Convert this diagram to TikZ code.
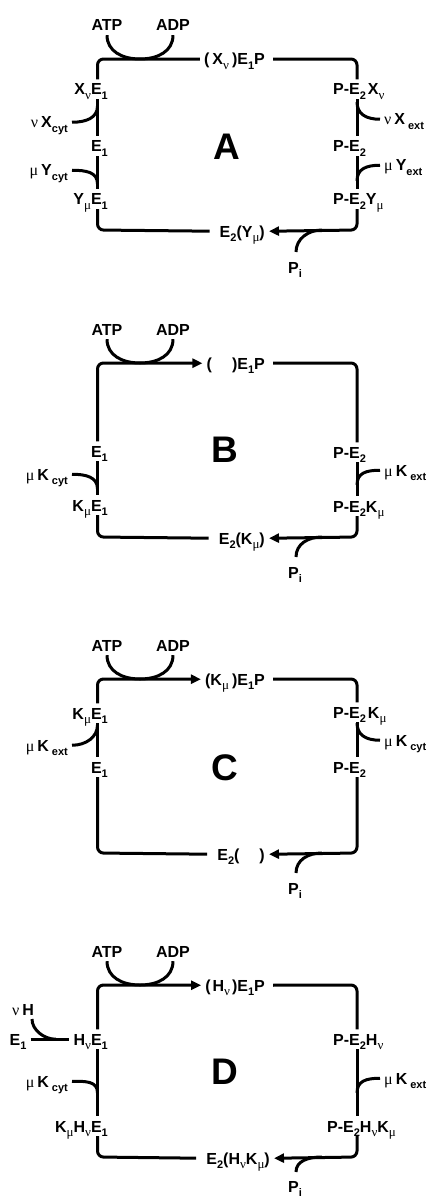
\documentclass[tikz,border=0pt]{standalone}
\usepackage{fontspec}
\setmainfont{Liberation Sans}
\newfontfamily\grfont{Liberation Serif}
\usetikzlibrary{arrows.meta}
\newcommand{\gk}[1]{{\grfont\mdseries #1}}
\newcommand{\sbs}[1]{\raisebox{-0.26em}{\fontsize{11}{12}\selectfont #1}}
\newcommand{\gs}[1]{\raisebox{-0.26em}{\fontsize{13}{14}\selectfont\grfont\mdseries #1}}
\newcommand{\lf}{\fontsize{16}{18}\selectfont\bfseries}
\begin{document}
\begin{tikzpicture}[x=1pt,y=-1pt,
  lab/.style={font=\lf, inner xsep=4pt, inner ysep=4pt, text height=11.5pt, text depth=0pt},
  ln/.style={line width=3pt},
  arr/.style={line width=3pt, -{Triangle[length=10pt,width=9pt]}},
  big/.style={font=\fontsize{37}{40}\selectfont\bfseries, inner sep=0pt},
  rc/.style={rounded corners=6pt}]
\useasboundingbox (0,0) rectangle (433,1198);

% ================= Panel A =================
\coordinate (tlA) at (97.5,59); \coordinate (trA) at (357,59);
\coordinate (blA) at (97.5,230); \coordinate (brA) at (357,230);
\node[lab, anchor=base] (atpA) at (107,31) {ATP};
\node[lab, anchor=base] (adpA) at (173,31) {ADP};
\coordinate (uA) at (140,59);
\draw[ln] (atpA.south) .. controls +(0,16) and +(-18,0) .. (uA) .. controls +(18,0) and +(0,16) .. (adpA.south);
\node[lab, anchor=base east] (topA) at (269,65) {(\hspace{3pt}X\gs{ν}\hspace{3pt})E\sbs{1}P};
\node[lab, anchor=base east] (l1A) at (112,95) {X\gs{ν}E\sbs{1}};
\node[lab, anchor=base east] (l2A) at (112,152) {E\sbs{1}};
\node[lab, anchor=base east] (l3A) at (112,205) {Y\gs{μ}E\sbs{1}};
\node[lab, anchor=base west] (r1A) at (329,95) {P-E\sbs{2}\hspace{2pt}X\gs{ν}};
\node[lab, anchor=base west] (r2A) at (329,152) {P-E\sbs{2}};
\node[lab, anchor=base west] (r3A) at (329,205) {P-E\sbs{2}Y\gs{μ}};
\node[lab, anchor=base east] (s1A) at (72,128) {\gk{ν}\hspace{3pt}X\sbs{cyt}};
\node[lab, anchor=base east] (s2A) at (72,176) {\gk{μ}\hspace{3pt}Y\sbs{cyt}};
\node[lab, anchor=base west] (s3A) at (380,125) {\gk{ν}\hspace{3pt}X\hspace{3pt}\sbs{ext}};
\node[lab, anchor=base west] (s4A) at (380,171) {\gk{μ}\hspace{3pt}Y\sbs{ext}};
\node[lab, anchor=base east] (botA) at (269,237) {E\sbs{2}(Y\gs{μ})};
\node[lab, anchor=base] (piA) at (295,273) {P\sbs{i}};
\node[big] (nA) at (227,147) {A};
\draw[ln, rc] (l1A.north -| tlA) -- (tlA) -- (topA.west);
\draw[ln, rc, shorten <=4pt] (topA.east) -- (trA) -- (r1A.north -| trA);
\draw[ln] (l1A.south -| tlA) -- (l2A.north -| tlA);
\draw[ln] (l2A.south -| tlA) -- (l3A.north -| tlA);
\draw[ln, rc, shorten >=6pt] (l3A.south -| blA) -- (blA) -- (botA.west);
\draw[ln] (r1A.south -| trA) -- (r2A.north -| trA);
\draw[ln] (r2A.south -| trA) -- (r3A.north -| trA);
\draw[arr, rc] (r3A.south -| brA) -- (brA) -- (botA.east);
\coordinate (c1A) at (97.5,106);
\draw[ln] (s1A.east) .. controls +(14,0) and +(0,12) .. (c1A);
\coordinate (c2A) at (97.5,184);
\draw[ln] (s2A.east) .. controls +(14,0) and +(0,-12) .. (c2A);
\coordinate (c3A) at (357,102);
\draw[ln] (c3A) .. controls +(0,12) and +(-14,0) .. (s3A.west);
\coordinate (c4A) at (357,181);
\draw[ln] (s4A.west) .. controls +(-14,0) and +(0,-12) .. (c4A);
\coordinate (pA) at (296,252); \coordinate (qA) at (322,230);
\draw[ln] (pA) .. controls +(0,-13) and +(-14,0) .. (qA);

% ================= Panel B =================
\coordinate (tlB) at (97.5,363); \coordinate (trB) at (357,363);
\coordinate (blB) at (97.5,537); \coordinate (brB) at (357,537);
\node[lab, anchor=base] (atpB) at (107,335) {ATP};
\node[lab, anchor=base] (adpB) at (173,335) {ADP};
\coordinate (uB) at (140,363);
\draw[ln] (atpB.south) .. controls +(0,16) and +(-18,0) .. (uB) .. controls +(18,0) and +(0,16) .. (adpB.south);
\node[lab, anchor=base east] (topB) at (269,369) {(\hspace{20pt})E\sbs{1}P};
\node[lab, anchor=base east] (l1B) at (112,457) {E\sbs{1}};
\node[lab, anchor=base east] (l2B) at (112,511) {K\gs{μ}E\sbs{1}};
\node[lab, anchor=base west] (r1B) at (329,458) {P-E\sbs{2}};
\node[lab, anchor=base west] (r2B) at (329,512) {P-E\sbs{2}K\gs{μ}};
\node[lab, anchor=base east] (s1B) at (72,480) {\gk{μ}\hspace{3pt}K\hspace{3pt}\sbs{cyt}};
\node[lab, anchor=base west] (s2B) at (380,476) {\gk{μ}\hspace{3pt}K\hspace{3pt}\sbs{ext}};
\node[lab, anchor=base east] (botB) at (269,544) {E\sbs{2}(K\gs{μ})};
\node[lab, anchor=base] (piB) at (295,578) {P\sbs{i}};
\node[big] (nB) at (225,450) {B};
\draw[arr, rc] (l1B.north -| tlB) -- (tlB) -- (topB.west);
\draw[ln, rc, shorten <=4pt] (topB.east) -- (trB) -- (r1B.north -| trB);
\draw[ln] (l1B.south -| tlB) -- (l2B.north -| tlB);
\draw[ln, rc, shorten >=6pt] (l2B.south -| blB) -- (blB) -- (botB.west);
\draw[ln] (r1B.south -| trB) -- (r2B.north -| trB);
\draw[arr, rc] (r2B.south -| brB) -- (brB) -- (botB.east);
\coordinate (c1B) at (97.5,489);
\draw[ln] (s1B.east) .. controls +(14,0) and +(0,-12) .. (c1B);
\coordinate (c2B) at (357,485);
\draw[ln] (s2B.west) .. controls +(-14,0) and +(0,-12) .. (c2B);
\coordinate (pB) at (296,557); \coordinate (qB) at (322,537);
\draw[ln] (pB) .. controls +(0,-13) and +(-14,0) .. (qB);

% ================= Panel C =================
\coordinate (tlC) at (97.5,679); \coordinate (trC) at (357,679);
\coordinate (blC) at (97.5,853); \coordinate (brC) at (357,853);
\node[lab, anchor=base] (atpC) at (107,651) {ATP};
\node[lab, anchor=base] (adpC) at (173,651) {ADP};
\coordinate (uC) at (140,679);
\draw[ln] (atpC.south) .. controls +(0,16) and +(-18,0) .. (uC) .. controls +(18,0) and +(0,16) .. (adpC.south);
\node[lab, anchor=base east] (topC) at (269,685) {(K\gs{μ}\hspace{3pt})E\sbs{1}P};
\node[lab, anchor=base east] (l1C) at (112,719) {K\gs{μ}E\sbs{1}};
\node[lab, anchor=base east] (l2C) at (112,773) {E\sbs{1}};
\node[lab, anchor=base west] (r1C) at (329,718) {P-E\sbs{2}\hspace{2pt}K\gs{μ}};
\node[lab, anchor=base west] (r2C) at (329,773) {P-E\sbs{2}};
\node[lab, anchor=base east] (s1C) at (72,751) {\gk{μ}\hspace{3pt}K\hspace{3pt}\sbs{ext}};
\node[lab, anchor=base west] (s2C) at (380,746) {\gk{μ}\hspace{3pt}K\hspace{3pt}\sbs{cyt}};
\node[lab, anchor=base east] (botC) at (269,860) {E\sbs{2}(\hspace{20pt})};
\node[lab, anchor=base] (piC) at (295,894) {P\sbs{i}};
\node[big] (nC) at (225,768) {C};
\draw[arr, rc] (l1C.north -| tlC) -- (tlC) -- (topC.west);
\draw[ln, rc, shorten <=4pt] (topC.east) -- (trC) -- (r1C.north -| trC);
\draw[ln] (l1C.south -| tlC) -- (l2C.north -| tlC);
\draw[ln, rc, shorten >=6pt] (l2C.south -| blC) -- (blC) -- (botC.west);
\draw[ln] (r1C.south -| trC) -- (r2C.north -| trC);
\draw[arr, rc] (r2C.south -| brC) -- (brC) -- (botC.east);
\coordinate (c1C) at (97.5,725);
\draw[ln] (s1C.east) .. controls +(14,0) and +(0,12) .. (c1C);
\coordinate (c2C) at (357,723);
\draw[ln] (c2C) .. controls +(0,12) and +(-14,0) .. (s2C.west);
\coordinate (pC) at (296,873); \coordinate (qC) at (322,853);
\draw[ln] (pC) .. controls +(0,-13) and +(-14,0) .. (qC);

% ================= Panel D =================
\coordinate (tlD) at (97.5,985); \coordinate (trD) at (357,985);
\coordinate (blD) at (97.5,1157); \coordinate (brD) at (357,1157);
\node[lab, anchor=base] (atpD) at (107,957) {ATP};
\node[lab, anchor=base] (adpD) at (173,957) {ADP};
\coordinate (uD) at (140,985);
\draw[ln] (atpD.south) .. controls +(0,16) and +(-18,0) .. (uD) .. controls +(18,0) and +(0,16) .. (adpD.south);
\node[lab, anchor=base east] (topD) at (269,991) {(\hspace{2pt}H\gs{ν}\hspace{2pt})E\sbs{1}P};
\node[lab, anchor=base east] (l1D) at (112,1045) {H\gs{ν}E\sbs{1}};
\node[lab, anchor=base] (e0D) at (18,1045) {E\sbs{1}};
\node[lab, anchor=base] (nuD) at (23,1015) {\gk{ν}\hspace{3pt}H};
\node[lab, anchor=base east] (l2D) at (112,1132) {K\gs{μ}H\gs{ν}E\sbs{1}};
\node[lab, anchor=base west] (r1D) at (329,1045) {P-E\sbs{2}H\gs{ν}};
\node[lab, anchor=base west] (r2D) at (323,1132) {P-E\sbs{2}H\gs{ν}K\gs{μ}};
\node[lab, anchor=base east] (s1D) at (72,1087) {\gk{μ}\hspace{3pt}K\hspace{3pt}\sbs{cyt}};
\node[lab, anchor=base west] (s2D) at (380,1084) {\gk{μ}\hspace{3pt}K\hspace{3pt}\sbs{ext}};
\node[lab, anchor=base east] (botD) at (274,1164) {E\sbs{2}(H\gs{ν}K\gs{μ})};
\node[lab, anchor=base] (piD) at (295,1192) {P\sbs{i}};
\node[big] (nD) at (225,1072) {D};
\draw[arr, rc] (l1D.north -| tlD) -- (tlD) -- (topD.west);
\draw[ln, rc, shorten <=4pt] (topD.east) -- (trD) -- (r1D.north -| trD);
\draw[ln] (l1D.south -| tlD) -- (l2D.north -| tlD);
\draw[ln, rc, shorten >=6pt] (l2D.south -| blD) -- (blD) -- (botD.west);
\draw[ln] (r1D.south -| trD) -- (r2D.north -| trD);
\draw[arr, rc] (r2D.south -| brD) -- (brD) -- (botD.east);
\draw[ln] (e0D.east) -- (l1D.west);
\coordinate (hD0) at (32,1019); \coordinate (hD1) at (56,1039.25);
\draw[ln] (hD0) .. controls +(0,11) and +(-12,0) .. (hD1);
\coordinate (c1D) at (97.5,1093);
\draw[ln] (s1D.east) .. controls +(14,0) and +(0,-12) .. (c1D);
\coordinate (c2D) at (357,1093);
\draw[ln] (s2D.west) .. controls +(-14,0) and +(0,-12) .. (c2D);
\coordinate (pD) at (296,1172); \coordinate (qD) at (322,1157);
\draw[ln] (pD) .. controls +(0,-11) and +(-14,0) .. (qD);
\end{tikzpicture}
\end{document}
